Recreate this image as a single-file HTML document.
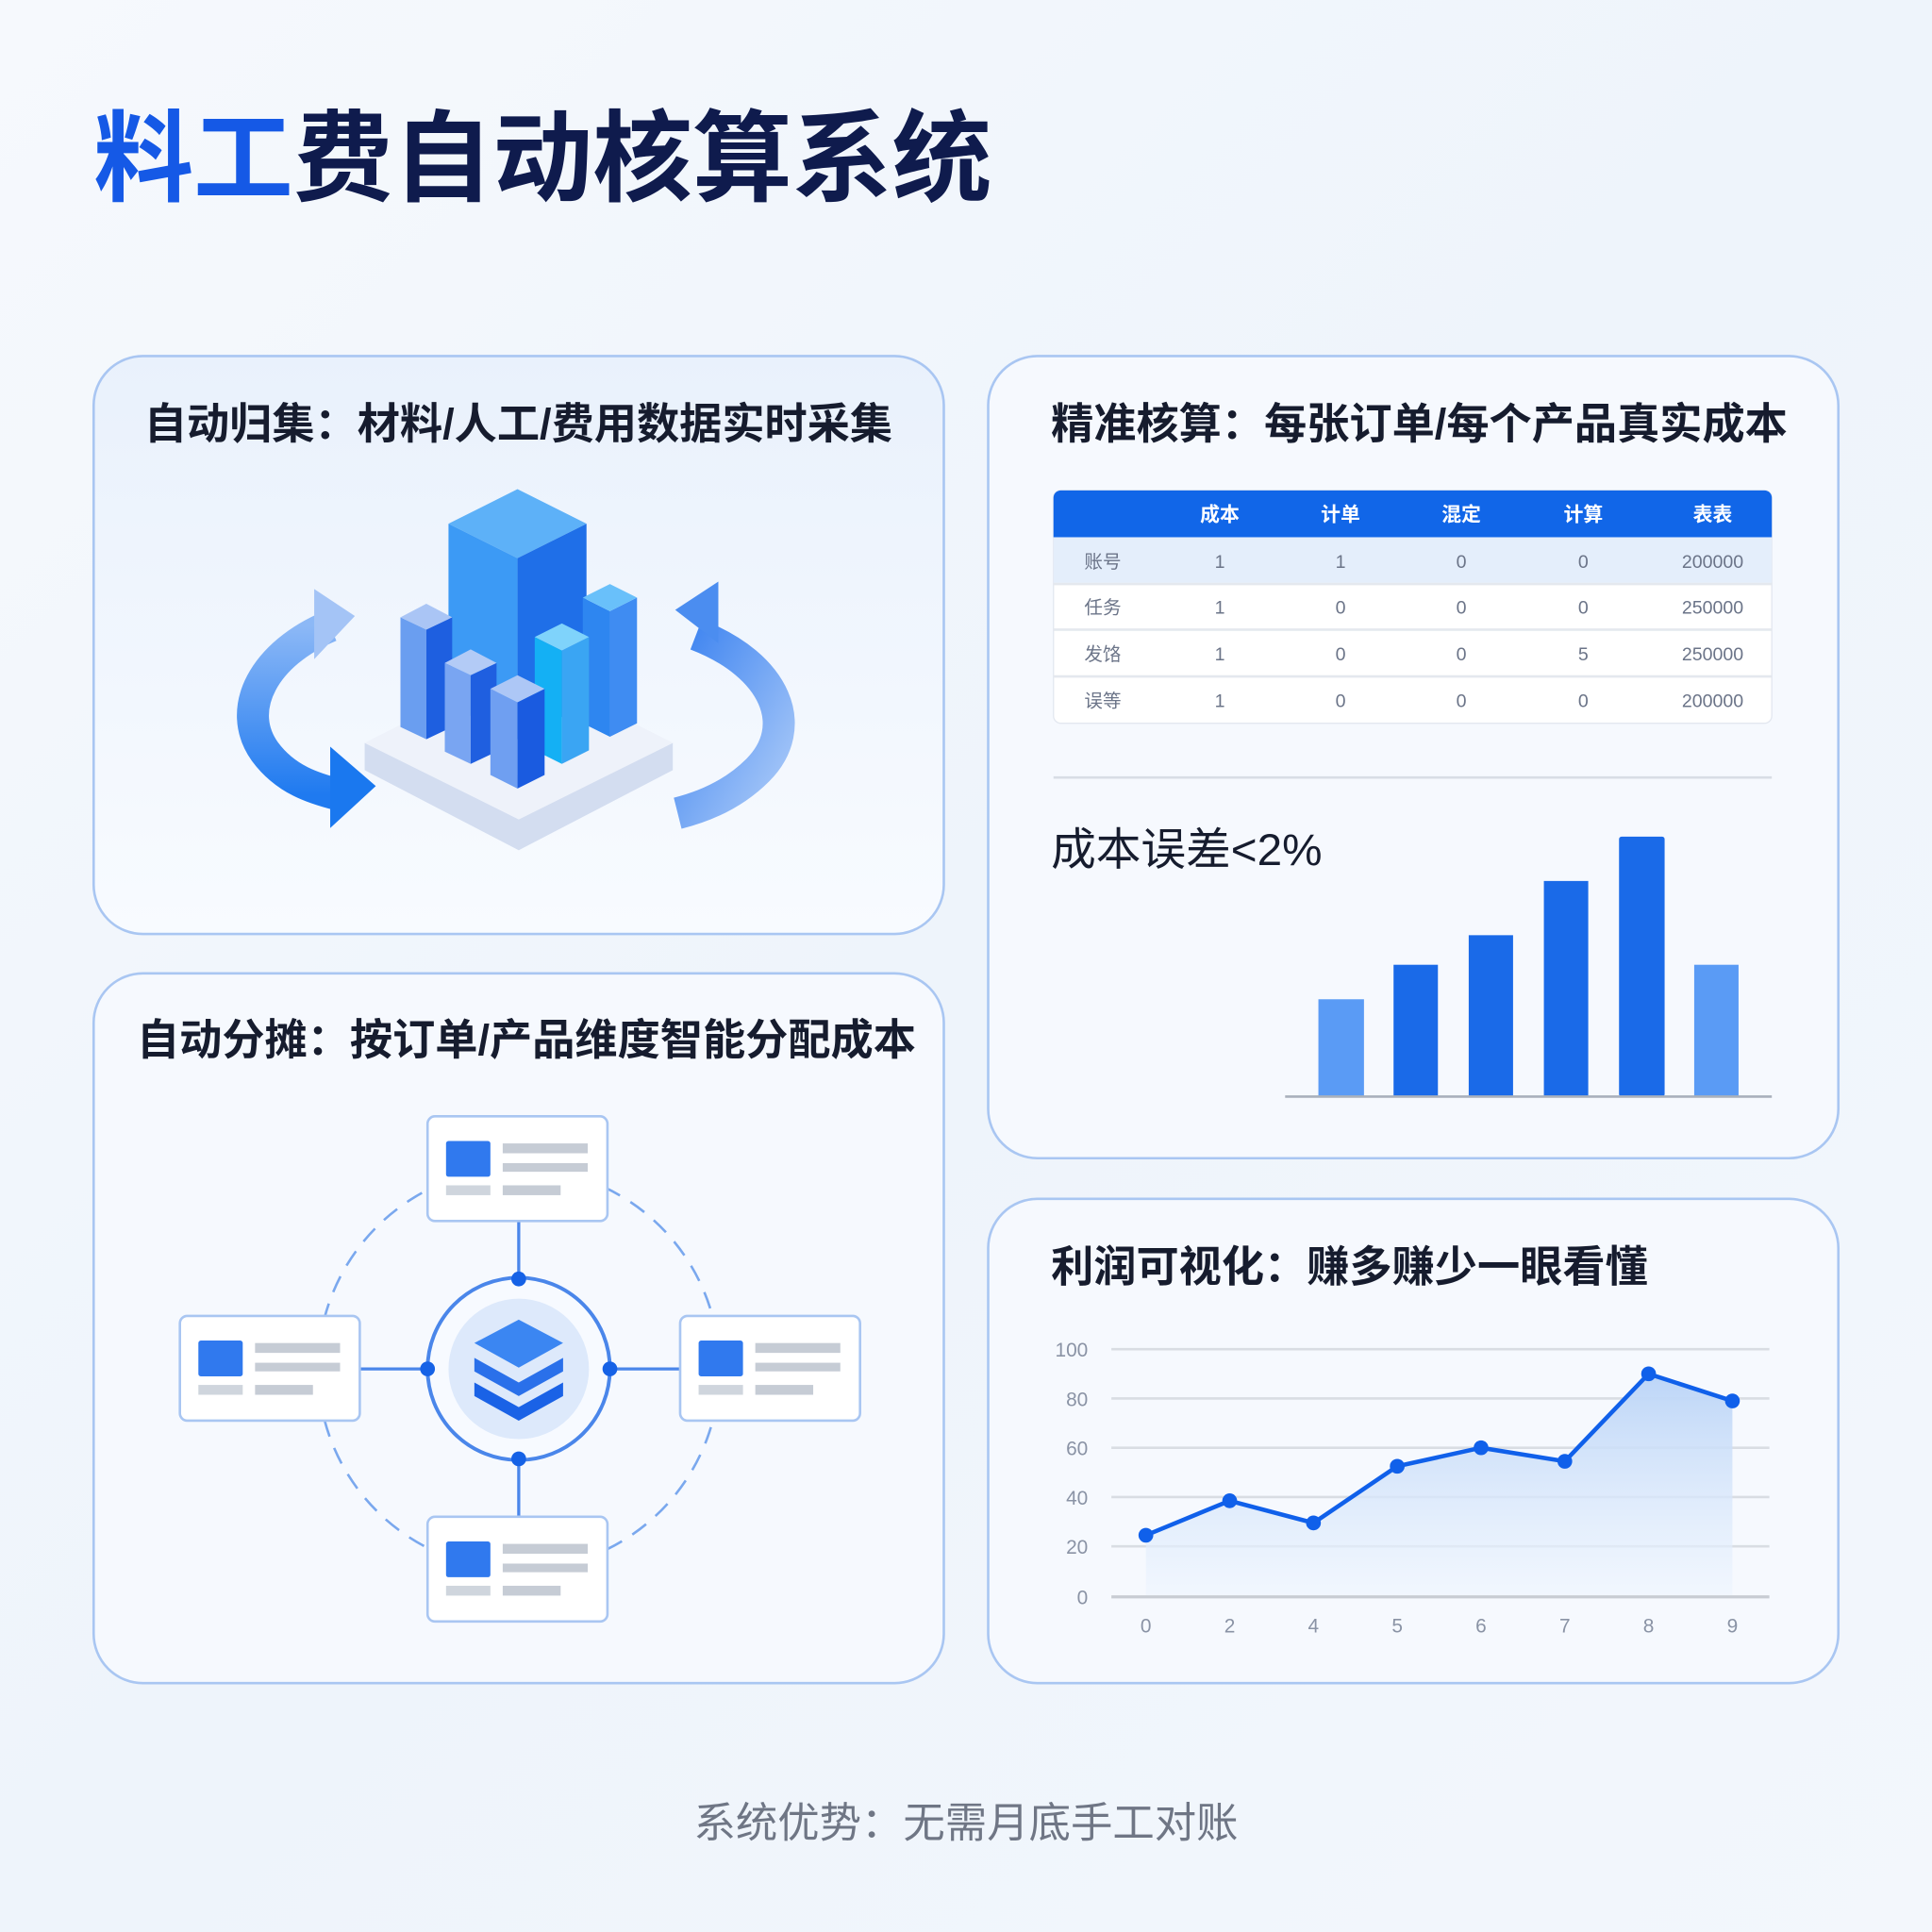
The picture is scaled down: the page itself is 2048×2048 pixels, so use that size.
<!DOCTYPE html>
<html><head><meta charset="utf-8"><style>
html,body{margin:0;padding:0;width:2048px;height:2048px;overflow:hidden;background:#f1f6fc}
svg{display:block}
text{font-family:"Liberation Sans","Noto Sans CJK SC",sans-serif}
</style></head><body>
<svg width="2048" height="2048" viewBox="0 0 1568 1568" xmlns="http://www.w3.org/2000/svg">
<defs>
<linearGradient id="bg" x1="0" y1="0" x2="1" y2="1"><stop offset="0" stop-color="#f6f9fd"/><stop offset="0.5" stop-color="#eef4fb"/><stop offset="1" stop-color="#f3f7fc"/></linearGradient>
<linearGradient id="card" x1="0" y1="0" x2="0" y2="1"><stop offset="0" stop-color="#e9f1fc"/><stop offset="1" stop-color="#f8fbff"/></linearGradient>
<linearGradient id="area" x1="0" y1="0" x2="0" y2="1"><stop offset="0" stop-color="#bcd5f7"/><stop offset="1" stop-color="#eef5fe" stop-opacity="0.6"/></linearGradient>
<linearGradient id="arr" x1="0" y1="0" x2="0" y2="1"><stop offset="0" stop-color="#8cb8f6"/><stop offset="1" stop-color="#1f7af0"/></linearGradient>
<linearGradient id="arr2" x1="0" y1="0" x2="1" y2="1"><stop offset="0" stop-color="#3b82f0"/><stop offset="1" stop-color="#a9c9f8"/></linearGradient>
</defs>
<rect width="1568" height="1568" fill="url(#bg)"/>
<text x="76" y="157" font-size="81" font-weight="bold" fill="#0f1b4d"><tspan fill="#1559e6">料工</tspan>费自动核算系统</text>

<rect x="76" y="289" width="690" height="469" rx="40" fill="url(#card)" stroke="#a9c6f2" stroke-width="2"/>
<rect x="802" y="289" width="690" height="651" rx="40" fill="#f6f9fe" stroke="#a9c6f2" stroke-width="2"/>
<rect x="76" y="790" width="690" height="576" rx="40" fill="#f6f9fe" stroke="#a9c6f2" stroke-width="2"/>
<rect x="802" y="973" width="690" height="393" rx="40" fill="#f6f9fe" stroke="#a9c6f2" stroke-width="2"/>

<g font-size="34.6" font-weight="bold" fill="#161c2e">
<text x="117" y="356">自动归集：材料/人工/费用数据实时采集</text>
<text x="853" y="356">精准核算：每张订单/每个产品真实成本</text>
<text x="111" y="856">自动分摊：按订单/产品维度智能分配成本</text>
<text x="853" y="1040">利润可视化：赚多赚少一眼看懂</text>
</g>

<polygon points="296,603 421,540 546,603 546,625 421,690 296,625" fill="#e6ecf7"/>
<polygon points="296,603 421,665 546,603 546,625 421,690 296,625" fill="#d3ddf0"/>
<polygon points="296,603 421,540 546,603 421,665" fill="#eef2fa"/>
<g>
<polygon points="364,572 420,600 420,453 364,425" fill="#3c9af5"/>
<polygon points="420,600 476,572 476,425 420,453" fill="#1f6fe8"/>
<polygon points="364,425 420,397 476,425 420,453" fill="#5db1f8"/>
<polygon points="325,590 346,600 346,511 325,501" fill="#6a9ef0"/>
<polygon points="346,600 367,590 367,501 346,511" fill="#1e5fe0"/>
<polygon points="325,501 346,490 367,501 346,511" fill="#aac5f5"/>
<polygon points="473,587 495,598 495,496 473,485" fill="#2e86f0"/>
<polygon points="495,598 517,587 517,485 495,496" fill="#3f8cf2"/>
<polygon points="473,485 495,474 517,485 495,496" fill="#69c0fa"/>
<polygon points="434,609 456,620 456,528 434,517" fill="#14b0f4"/>
<polygon points="456,620 478,609 478,517 456,528" fill="#3aa5f3"/>
<polygon points="434,517 456,506 478,517 456,528" fill="#7fd3fb"/>
<polygon points="361,610 382,620 382,548 361,538" fill="#79a5f2"/>
<polygon points="382,620 403,610 403,538 382,548" fill="#1f5fe0"/>
<polygon points="361,538 382,527 403,538 382,548" fill="#b3cbf6"/>
<polygon points="398,629 420,640 420,570 398,559" fill="#6f9ff1"/>
<polygon points="420,640 442,629 442,559 420,570" fill="#1a5be0"/>
<polygon points="398,559 420,548 442,559 420,570" fill="#adc7f6"/>
</g>
<path d="M 268,508 C 215,530 190,575 215,610 C 232,633 255,640 275,645" fill="none" stroke="url(#arr)" stroke-width="26"/>
<polygon points="255,478 288,500 255,535" fill="#a4c4f6"/>
<polygon points="268,606 305,638 268,672" fill="#1a78ef"/>
<path d="M 565,515 C 630,540 650,590 615,625 C 595,645 570,655 550,660" fill="none" stroke="url(#arr2)" stroke-width="26"/>
<polygon points="583,472 548,495 583,522" fill="#4b8df0"/>

<rect x="855" y="398" width="583" height="189" rx="6" fill="#fff" stroke="#e3e8f0"/>
<path d="M855,436 V404 a6,6 0 0 1 6,-6 H1432 a6,6 0 0 1 6,6 V436 Z" fill="#1166e8"/>
<rect x="855" y="436" width="583" height="37" fill="#e4eefb"/>
<g stroke="#e4e8ee" stroke-width="2"><line x1="855" y1="474" x2="1438" y2="474"/><line x1="855" y1="511" x2="1438" y2="511"/><line x1="855" y1="549" x2="1438" y2="549"/></g>
<g font-size="16" fill="#fff" font-weight="bold" text-anchor="middle">
<text x="990" y="423">成本</text><text x="1088" y="423">计单</text><text x="1186" y="423">混定</text><text x="1285" y="423">计算</text><text x="1390" y="423">表表</text></g>
<g font-size="15" fill="#6b7488" text-anchor="middle">
<text x="895" y="461">账号</text><text x="990" y="461">1</text><text x="1088" y="461">1</text><text x="1186" y="461">0</text><text x="1285" y="461">0</text><text x="1390" y="461">200000</text>
<text x="895" y="498">任务</text><text x="990" y="498">1</text><text x="1088" y="498">0</text><text x="1186" y="498">0</text><text x="1285" y="498">0</text><text x="1390" y="498">250000</text>
<text x="895" y="536">发饹</text><text x="990" y="536">1</text><text x="1088" y="536">0</text><text x="1186" y="536">0</text><text x="1285" y="536">5</text><text x="1390" y="536">250000</text>
<text x="895" y="574">误等</text><text x="990" y="574">1</text><text x="1088" y="574">0</text><text x="1186" y="574">0</text><text x="1285" y="574">0</text><text x="1390" y="574">200000</text></g>
<line x1="855" y1="631" x2="1438" y2="631" stroke="#d8dde5" stroke-width="2"/>
<text x="853" y="702" font-size="36.5" fill="#161c2e">成本误差&lt;2%</text>
<rect x="1070" y="811" width="37" height="79" fill="#5a9bf5"/>
<rect x="1131" y="783" width="36" height="107" fill="#1a6ae8"/>
<rect x="1192" y="759" width="36" height="131" fill="#1a6ae8"/>
<rect x="1253" y="715" width="36" height="175" fill="#1a6ae8"/>
<rect x="1314" y="679" width="37" height="211" rx="2" fill="#1a6ae8"/>
<rect x="1375" y="783" width="36" height="107" fill="#5a9bf5"/>
<line x1="1043" y1="890" x2="1438" y2="890" stroke="#a9b0bc" stroke-width="2"/>

<circle cx="421" cy="1111" r="163" fill="none" stroke="#7aa8ee" stroke-width="2" stroke-dasharray="14 10"/>
<g stroke="#4a86ea" stroke-width="2.5"><line x1="421" y1="991" x2="421" y2="1231"/><line x1="291" y1="1111" x2="552" y2="1111"/></g>
<circle cx="421" cy="1111" r="74" fill="#f7faff" stroke="#4a86ea" stroke-width="3"/>
<circle cx="421" cy="1111" r="57" fill="#dde9fb"/>
<polygon points="385,1122 421,1142 457,1122 457,1133 421,1153 385,1133" fill="#1a62e6"/>
<polygon points="385,1102 421,1122 457,1102 457,1113 421,1133 385,1113" fill="#2a70ea"/>
<polygon points="385,1090 421,1071 457,1090 421,1110" fill="#3b86f2"/>
<g fill="#1662e6"><circle cx="421" cy="1038" r="6"/><circle cx="347" cy="1111" r="6"/><circle cx="495" cy="1111" r="6"/><circle cx="421" cy="1184" r="6"/></g>
<g id="box">
<rect x="347" y="906" width="146" height="85" rx="6" fill="#fff" stroke="#a9c6f2" stroke-width="2"/>
<rect x="362" y="926" width="36" height="29" rx="2" fill="#3079ee"/>
<rect x="408" y="928" width="69" height="8" fill="#c6ccd5"/><rect x="408" y="944" width="69" height="7" fill="#c6ccd5"/>
<rect x="362" y="962" width="36" height="8" fill="#cfd5dd"/><rect x="408" y="962" width="47" height="8" fill="#c6ccd5"/>
</g>
<use href="#box" transform="translate(-201,162)"/>
<use href="#box" transform="translate(205,162)"/>
<use href="#box" transform="translate(0,325)"/>

<g stroke="#d9dde3" stroke-width="2"><line x1="902" y1="1095" x2="1436" y2="1095"/><line x1="902" y1="1135" x2="1436" y2="1135"/><line x1="902" y1="1175" x2="1436" y2="1175"/><line x1="902" y1="1215" x2="1436" y2="1215"/><line x1="902" y1="1255" x2="1436" y2="1255"/></g>
<path d="M930,1246 L998,1218 L1066,1236 L1134,1190 L1202,1175 L1270,1186 L1338,1115 L1406,1137 L1406,1296 L930,1296 Z" fill="url(#area)"/>
<line x1="902" y1="1296" x2="1436" y2="1296" stroke="#c8ccd3" stroke-width="2.5"/>
<polyline points="930,1246 998,1218 1066,1236 1134,1190 1202,1175 1270,1186 1338,1115 1406,1137" fill="none" stroke="#1060ea" stroke-width="3.5"/>
<g fill="#1060ea"><circle cx="930" cy="1246" r="6"/><circle cx="998" cy="1218" r="6"/><circle cx="1066" cy="1236" r="6"/><circle cx="1134" cy="1190" r="6"/><circle cx="1202" cy="1175" r="6"/><circle cx="1270" cy="1186" r="6"/><circle cx="1338" cy="1115" r="6"/><circle cx="1406" cy="1137" r="6"/></g>
<g font-size="16" fill="#8a93a5" text-anchor="end">
<text x="883" y="1101">100</text><text x="883" y="1141">80</text><text x="883" y="1181">60</text><text x="883" y="1221">40</text><text x="883" y="1261">20</text><text x="883" y="1302">0</text></g>
<g font-size="16" fill="#8a93a5" text-anchor="middle">
<text x="930" y="1325">0</text><text x="998" y="1325">2</text><text x="1066" y="1325">4</text><text x="1134" y="1325">5</text><text x="1202" y="1325">6</text><text x="1270" y="1325">7</text><text x="1338" y="1325">8</text><text x="1406" y="1325">9</text></g>

<text x="784" y="1491" font-size="34" fill="#6f7685" text-anchor="middle">系统优势：无需月底手工对账</text>
</svg>
</body></html>
